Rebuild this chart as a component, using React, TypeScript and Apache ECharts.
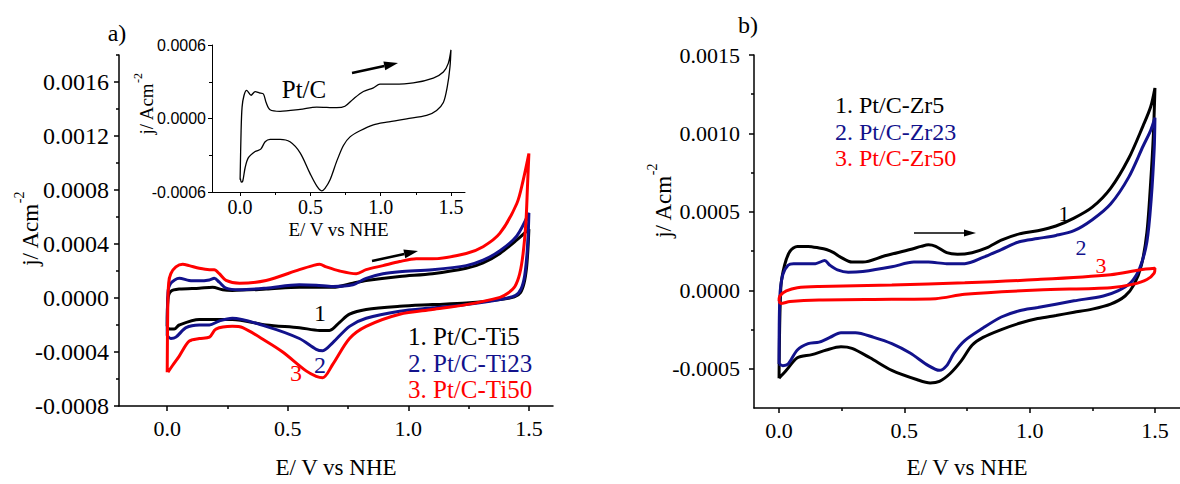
import React, { useEffect, useRef } from "react";
import * as echarts from "echarts";

// ---------- data ----------
// Panel a) Pt/C-Ti catalysts: [E (V vs NHE), j (A cm^-2)], full cycle
const ti5Curve: number[][] = [
  [0.0, -0.00021], [0.003, -0.00001], [0.015, 0.000049], [0.05, 0.000066], [0.133, 0.000073],
  [0.188, 0.00008], [0.23, 0.000061], [0.27, 0.000056], [0.41, 0.000066], [0.548, 0.00008],
  [0.687, 0.00008], [0.77, 0.00011], [0.825, 0.00013], [0.964, 0.00016], [1.1, 0.00018],
  [1.24, 0.00022], [1.31, 0.00026], [1.38, 0.00033], [1.45, 0.00043], [1.5, 0.00051],
  [1.496, 0.00036], [1.49, 0.00022], [1.48, 0.00011], [1.465, 0.00004], [1.44, 0.000008], [1.38, -0.000012],
  [1.24, -0.000037], [1.1, -0.000049], [0.964, -0.000061], [0.825, -0.000085], [0.756, -0.00012],
  [0.715, -0.00018], [0.673, -0.00024], [0.632, -0.00024], [0.548, -0.00022], [0.41, -0.0002],
  [0.27, -0.00016], [0.188, -0.00016], [0.133, -0.00016], [0.05, -0.0002], [0.029, -0.00023],
  [0.008, -0.00023], [0.0, -0.00021],
];
const ti23Curve: number[][] = [
  [0.0, -0.00028], [0.003, 0.000037], [0.015, 0.00011], [0.05, 0.000146], [0.091, 0.00013],
  [0.133, 0.000127], [0.175, 0.000134], [0.195, 0.000146], [0.216, 0.000117], [0.244, 0.000073],
  [0.3, 0.000061], [0.41, 0.000073], [0.548, 0.000098], [0.618, 0.000095], [0.687, 0.000085],
  [0.77, 0.000098], [0.825, 0.000146], [0.895, 0.00018], [0.964, 0.000195], [1.1, 0.00021],
  [1.24, 0.00024], [1.31, 0.00028], [1.38, 0.00035], [1.45, 0.00046], [1.5, 0.00063],
  [1.497, 0.00047], [1.491, 0.0003], [1.482, 0.00016], [1.468, 0.00007], [1.445, 0.00002], [1.38, -0.000012],
  [1.24, -0.000049], [1.1, -0.000073], [0.964, -0.000098], [0.825, -0.00015], [0.756, -0.00021],
  [0.687, -0.00033], [0.645, -0.00039], [0.618, -0.00038], [0.548, -0.0003], [0.41, -0.00021],
  [0.27, -0.00015], [0.216, -0.00017], [0.175, -0.0002], [0.133, -0.0002], [0.078, -0.00022],
  [0.036, -0.00029], [0.015, -0.0003], [0.0, -0.00028],
];
const ti50Curve: number[][] = [
  [0.0, -0.00055], [0.002, -0.0001], [0.006, 0.00011], [0.015, 0.00018], [0.036, 0.00023],
  [0.064, 0.00025], [0.091, 0.00024], [0.133, 0.00022], [0.175, 0.00021], [0.195, 0.00021],
  [0.216, 0.00018], [0.244, 0.00013], [0.3, 0.00011], [0.41, 0.00013], [0.548, 0.00021],
  [0.604, 0.00024], [0.632, 0.00025], [0.66, 0.00023], [0.715, 0.0002], [0.784, 0.00018],
  [0.825, 0.00021], [0.895, 0.00024], [0.964, 0.00027], [1.033, 0.00029], [1.1, 0.00029],
  [1.24, 0.00033], [1.31, 0.00038], [1.38, 0.00048], [1.45, 0.0007], [1.476, 0.00087],
  [1.5, 0.00107], [1.494, 0.00082], [1.488, 0.00057], [1.476, 0.00033], [1.462, 0.00018],
  [1.442, 0.000085], [1.414, 0.000037], [1.38, 0.000005], [1.24, -0.000049], [1.1, -0.000085], [0.964, -0.00012],
  [0.825, -0.00021], [0.756, -0.0003], [0.687, -0.00049], [0.645, -0.00059], [0.618, -0.00058],
  [0.576, -0.00054], [0.479, -0.0004], [0.41, -0.00032], [0.313, -0.00022], [0.27, -0.00021],
  [0.202, -0.00023], [0.175, -0.00029], [0.133, -0.0003], [0.091, -0.00032], [0.05, -0.00043],
  [0.022, -0.0005], [0.003, -0.00055],
];
// Inset: Pt/C
const ptcCurve: number[][] = [
  [0.0, -0.0005], [0.007, -0.0001], [0.014, 0.000093], [0.028, 0.00019], [0.047, 0.00023],
  [0.078, 0.00019], [0.107, 0.00022], [0.137, 0.00021], [0.166, 0.0002], [0.185, 0.00013],
  [0.213, 0.000071], [0.284, 0.000058], [0.427, 0.000074], [0.545, 0.000093], [0.687, 0.000088],
  [0.746, 0.0001], [0.806, 0.00016], [0.877, 0.00022], [0.948, 0.00025], [0.995, 0.00028],
  [1.09, 0.00028], [1.232, 0.00029], [1.374, 0.00033], [1.446, 0.00038], [1.481, 0.00045],
  [1.5, 0.00056], [1.493, 0.00042], [1.474, 0.00026], [1.446, 0.00013], [1.398, 0.000066],
  [1.327, 0.000025], [1.185, -0.000003], [1.043, -0.00003], [0.948, -0.000052], [0.853, -0.0001],
  [0.782, -0.00015], [0.735, -0.00022], [0.687, -0.00035], [0.64, -0.0005], [0.604, -0.00057],
  [0.58, -0.00059], [0.545, -0.00055], [0.498, -0.00045], [0.427, -0.00028], [0.355, -0.00019],
  [0.284, -0.00017], [0.213, -0.00017], [0.178, -0.00019], [0.147, -0.00025], [0.107, -0.00027],
  [0.059, -0.00032], [0.036, -0.0004], [0.019, -0.00051], [0.009, -0.00052], [0.002, -0.00049],
];
// Panel b) Pt/C-Zr catalysts
const zr5Curve: number[][] = [
  [0.0, -0.00056], [0.007, 0.000017], [0.022, 0.00016], [0.044, 0.00025], [0.073, 0.00028],
  [0.116, 0.00028], [0.16, 0.00027], [0.189, 0.00026], [0.218, 0.00024], [0.247, 0.00021],
  [0.291, 0.00018], [0.334, 0.00018], [0.422, 0.00022], [0.523, 0.00026], [0.567, 0.00028],
  [0.596, 0.00029], [0.625, 0.00028], [0.669, 0.00024], [0.712, 0.00023], [0.77, 0.00024],
  [0.828, 0.00027], [0.887, 0.00032], [0.959, 0.00036], [1.032, 0.00038], [1.105, 0.00041],
  [1.177, 0.00046], [1.25, 0.00053], [1.323, 0.00065], [1.395, 0.00084], [1.453, 0.00105],
  [1.483, 0.00117], [1.5, 0.00129], [1.494, 0.001], [1.483, 0.00069], [1.468, 0.00037],
  [1.446, 0.00016], [1.417, 0.000038], [1.381, -0.000036], [1.323, -0.000088], [1.25, -0.00012],
  [1.177, -0.00014], [1.105, -0.00016], [1.032, -0.00018], [0.959, -0.00021], [0.887, -0.00025],
  [0.814, -0.0003], [0.77, -0.00035], [0.727, -0.00045], [0.683, -0.00053], [0.64, -0.00058],
  [0.603, -0.00059], [0.552, -0.00057], [0.45, -0.00051], [0.363, -0.00043], [0.291, -0.00037],
  [0.247, -0.00036], [0.189, -0.00038], [0.131, -0.00041], [0.073, -0.00043], [0.029, -0.00051],
  [0.0, -0.00056],
];
const zr23Curve: number[][] = [
  [0.0, -0.00047], [0.003, -0.000046], [0.015, 0.0001], [0.036, 0.00016], [0.058, 0.00017],
  [0.102, 0.00017], [0.145, 0.00017], [0.182, 0.00019], [0.203, 0.00016], [0.233, 0.00013],
  [0.276, 0.000115], [0.334, 0.00012], [0.45, 0.00015], [0.538, 0.00018], [0.596, 0.00018],
  [0.669, 0.00017], [0.741, 0.00017], [0.814, 0.00021], [0.887, 0.00026], [0.959, 0.00031],
  [1.032, 0.00033], [1.105, 0.00035], [1.177, 0.00038], [1.25, 0.00045], [1.323, 0.00055],
  [1.395, 0.00072], [1.453, 0.00092], [1.483, 0.00102], [1.5, 0.0011], [1.497, 0.0009],
  [1.485, 0.00058], [1.468, 0.00031], [1.439, 0.00014], [1.403, 0.000048], [1.352, -0.000004],
  [1.294, -0.000036], [1.177, -0.000067], [1.032, -0.00011], [0.959, -0.00013], [0.887, -0.00017],
  [0.814, -0.00024], [0.741, -0.00032], [0.698, -0.0004], [0.669, -0.00048], [0.64, -0.00051],
  [0.596, -0.00048], [0.523, -0.0004], [0.45, -0.00034], [0.378, -0.0003], [0.305, -0.00027],
  [0.247, -0.00027], [0.203, -0.0003], [0.16, -0.00033], [0.116, -0.00034], [0.073, -0.00038],
  [0.036, -0.00047], [0.015, -0.00048], [0.0, -0.00047],
];
const zr50Curve: number[][] = [
  [0.0, -0.00007], [0.003, -0.000036], [0.029, -0.000004], [0.073, 0.000017], [0.16, 0.000025],
  [0.45, 0.000034], [0.741, 0.000048], [1.032, 0.000069], [1.323, 0.0001], [1.439, 0.00013],
  [1.5, 0.00014], [1.497, 0.00011], [1.468, 0.000069], [1.41, 0.000038], [1.323, 0.000017],
  [1.032, 0.000002], [0.741, -0.000025], [0.625, -0.000053], [0.45, -0.000057], [0.16, -0.000061],
  [0.044, -0.000071], [0.007, -0.000084], [0.0, -0.00007],
];

// tick labels
const eTicks = [0, 0.5, 1.0, 1.5];
const eMinorTicks = [0.25, 0.75, 1.25];
const jTicksA = [-0.0008, -0.0004, 0, 0.0004, 0.0008, 0.0012, 0.0016];
const jMinorA = [-0.0006, -0.0002, 0.0002, 0.0006, 0.001, 0.0014, 0.0018];
const jTicksInset = [-0.0006, 0, 0.0006];
const jMinorInset = [-0.0003, 0.0003];
const jTicksB = [-0.0005, 0, 0.0005, 0.001, 0.0015];
const jMinorB = [-0.00025, 0.00025, 0.00075, 0.00125];

const legendA = ["1. Pt/C-Ti5", "2. Pt/C-Ti23", "3. Pt/C-Ti50"];
const legendB = ["1. Pt/C-Zr5", "2. Pt/C-Zr23", "3. Pt/C-Zr50"];

const BLACK = "#000000";
const BLUE = "#12128c";
const RED = "#ff0000";
const SERIF = "Liberation Serif, serif";
const SANS = "Liberation Sans, sans-serif";

function mainX(grid: number, min: number, max: number, fs: number, margin: number, tickLen: number, nameSize: number, nameGap: number, lw: number) {
  return {
    type: "value", gridIndex: grid, min, max, position: "bottom",
    axisLine: { onZero: false, lineStyle: { color: BLACK, width: lw } },
    axisTick: { customValues: eTicks, length: tickLen, inside: false, lineStyle: { color: BLACK, width: lw } },
    axisLabel: { customValues: eTicks, formatter: (v: number) => v.toFixed(1), fontSize: fs, fontFamily: SERIF, color: BLACK, margin },
    splitLine: { show: false },
    name: "E/ V vs NHE", nameLocation: "middle", nameGap,
    nameTextStyle: { fontSize: nameSize, fontFamily: SERIF, color: BLACK },
  };
}
function minorX(grid: number, min: number, max: number, lw: number) {
  return {
    type: "value", gridIndex: grid, min, max, position: "bottom",
    axisLine: { show: false, onZero: false },
    axisTick: { customValues: eMinorTicks, length: 3, inside: false, lineStyle: { color: BLACK, width: lw } },
    axisLabel: { show: false }, splitLine: { show: false },
  };
}
function mainY(grid: number, min: number, max: number, ticks: number[], fs: number, family: string, margin: number, tickLen: number, lw: number) {
  return {
    type: "value", gridIndex: grid, min, max, position: "left",
    axisLine: { onZero: false, lineStyle: { color: BLACK, width: lw } },
    axisTick: { customValues: ticks, length: tickLen, inside: false, lineStyle: { color: BLACK, width: lw } },
    axisLabel: { customValues: ticks, formatter: (v: number) => v.toFixed(4), fontSize: fs, fontFamily: family, color: BLACK, margin },
    splitLine: { show: false },
  };
}
function minorY(grid: number, min: number, max: number, ticks: number[], lw: number) {
  return {
    type: "value", gridIndex: grid, min, max, position: "left",
    axisLine: { show: false, onZero: false },
    axisTick: { customValues: ticks, length: 3, inside: false, lineStyle: { color: BLACK, width: lw } },
    axisLabel: { show: false }, splitLine: { show: false },
  };
}
function curve(name: string, data: number[][], axis: number, color: string, width: number) {
  return {
    type: "line", name, data, xAxisIndex: axis, yAxisIndex: axis,
    showSymbol: false, symbol: "none", smooth: 0.3,
    lineStyle: { color, width }, itemStyle: { color }, clip: false,
  };
}
function label(text: string, x: number, y: number, color: string, size: number, align = "center") {
  return {
    type: "text", x, y, z: 100,
    style: { text, fill: color, fontSize: size, fontFamily: SERIF, align, verticalAlign: "middle" },
  };
}
function yName(x: number, y: number, size: number, supSize: number, lh: number) {
  return {
    type: "text", x, y, rotation: Math.PI / 2, z: 100,
    style: {
      text: "{a|j/ Acm}{s|-2}", align: "center", verticalAlign: "middle",
      fontFamily: SERIF, fontSize: size,
      rich: {
        a: { fontSize: size, fontFamily: SERIF, fill: BLACK, lineHeight: lh, verticalAlign: "bottom" },
        s: { fontSize: supSize, fontFamily: SERIF, fill: BLACK, lineHeight: lh, verticalAlign: "top" },
      },
    },
  };
}
function arrow(x1: number, y1: number, x2: number, y2: number, w: number, headLen: number, headHalf: number) {
  const dx = x2 - x1, dy = y2 - y1;
  const L = Math.hypot(dx, dy);
  const ux = dx / L, uy = dy / L;
  const bx = x2 - ux * headLen, by = y2 - uy * headLen;
  const nx = -uy, ny = ux;
  return [
    { type: "line", z: 100, shape: { x1, y1, x2: bx, y2: by }, style: { stroke: BLACK, lineWidth: w } },
    {
      type: "polygon", z: 100,
      shape: { points: [[x2, y2], [bx + nx * headHalf, by + ny * headHalf], [bx - nx * headHalf, by - ny * headHalf]] },
      style: { fill: BLACK },
    },
  ];
}

export default function App() {
  const ref = useRef<HTMLDivElement>(null);
  useEffect(() => {
    document.body.style.margin = "0";
    const chart = echarts.init(ref.current!, undefined, { renderer: "svg" });
    chart.setOption({
      animation: false,
      backgroundColor: "#ffffff",
      textStyle: { fontFamily: SERIF },
      grid: [
        { left: 119, top: 55, width: 434, height: 356 },
        { left: 212, top: 45, width: 253, height: 147 },
        { left: 754, top: 55, width: 434, height: 356 },
      ],
      xAxis: [
        mainX(0, -0.2, 1.6, 22, 11, 5, 23, 50, 1.5),
        minorX(0, -0.2, 1.6, 1.5),
        mainX(1, -0.2, 1.6, 20, 5, 4, 19, 28, 1),
        minorX(1, -0.2, 1.6, 1),
        mainX(2, -0.1, 1.6, 22, 11, 5, 23, 48, 1.5),
        minorX(2, -0.1, 1.6, 1.5),
      ],
      yAxis: [
        mainY(0, -0.0008, 0.0018, jTicksA, 24, SERIF, 10, 5, 1.5),
        minorY(0, -0.0008, 0.0018, jMinorA, 1.5),
        mainY(1, -0.0006, 0.0006, jTicksInset, 16, SANS, 6, 4, 1),
        minorY(1, -0.0006, 0.0006, jMinorInset, 1),
        mainY(2, -0.00075, 0.0015, jTicksB, 22, SERIF, 14, 5, 1.5),
        minorY(2, -0.00075, 0.0015, jMinorB, 1.5),
      ],
      series: [
        curve(legendA[0], ti5Curve, 0, BLACK, 3),
        curve(legendA[1], ti23Curve, 0, BLUE, 3),
        curve(legendA[2], ti50Curve, 0, RED, 3),
        curve("Pt/C", ptcCurve, 2, BLACK, 1.3),
        curve(legendB[0], zr5Curve, 4, BLACK, 3),
        curve(legendB[1], zr23Curve, 4, BLUE, 3),
        curve(legendB[2], zr50Curve, 4, RED, 3),
      ],
      graphic: [
        label("a)", 117, 33, BLACK, 24),
        label("b)", 748, 25, BLACK, 24),
        yName(27, 229, 23, 14, 30),
        yName(660, 201, 23, 14, 30),
        yName(144, 104, 19, 12, 24),
        label("Pt/C", 304, 89, BLACK, 25),
        label(legendA[0], 408, 336, BLACK, 25, "left"),
        label(legendA[1], 408, 363, BLUE, 25, "left"),
        label(legendA[2], 408, 389, RED, 25, "left"),
        label("1", 320, 313, BLACK, 24),
        label("2", 320, 365, BLUE, 24),
        label("3", 296, 373, RED, 24),
        label(legendB[0], 835, 105, BLACK, 24, "left"),
        label(legendB[1], 835, 132, BLUE, 24, "left"),
        label(legendB[2], 835, 158, RED, 24, "left"),
        label("1", 1064, 213, BLACK, 22),
        label("2", 1081, 247, BLUE, 22),
        label("3", 1101, 265, RED, 22),
        ...arrow(372, 261, 418, 251, 2.5, 14, 4.5),
        ...arrow(352, 73, 398, 63, 2.5, 14, 4.5),
        ...arrow(914, 233, 976, 233, 1.5, 12, 3.5),
      ],
    });
    return () => chart.dispose();
  }, []);
  return <div ref={ref} style={{ width: 1180, height: 484 }} />;
}
